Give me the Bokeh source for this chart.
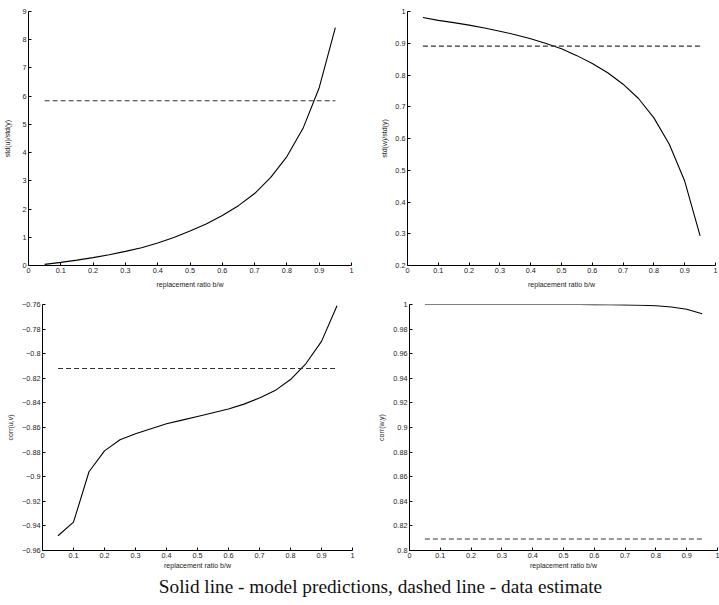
from bokeh.plotting import figure
from bokeh.layouts import column, row
from bokeh.models import FixedTicker, Range1d
from bokeh.core.properties import value
from bokeh.embed import file_html
from bokeh.resources import INLINE

# ---- data ----
ratio = [0.05, 0.10, 0.15, 0.20, 0.25, 0.30, 0.35, 0.40, 0.45, 0.50,
         0.55, 0.60, 0.65, 0.70, 0.75, 0.80, 0.85, 0.90, 0.95]

std_u = [0.04, 0.11, 0.19, 0.28, 0.38, 0.50, 0.63, 0.80, 0.99, 1.22,
         1.47, 1.77, 2.12, 2.55, 3.12, 3.86, 4.86, 6.30, 8.43]
std_u_data = 5.84

std_w = [0.981, 0.972, 0.965, 0.957, 0.948, 0.938, 0.927, 0.914, 0.899, 0.883,
         0.861, 0.836, 0.807, 0.771, 0.726, 0.665, 0.582, 0.466, 0.293]
std_w_data = 0.891

corr_uv = [-0.948, -0.937, -0.896, -0.879, -0.870, -0.865, -0.861, -0.857, -0.854, -0.851,
           -0.848, -0.845, -0.841, -0.836, -0.830, -0.821, -0.808, -0.790, -0.761]
corr_uv_data = -0.812

corr_wy = [1.0, 1.0, 1.0, 1.0, 1.0, 1.0, 1.0, 1.0, 1.0, 1.0,
           1.0, 0.9999, 0.9998, 0.9997, 0.9994, 0.999, 0.998, 0.9962, 0.9925]
corr_wy_data = 0.8094

x_ticks = [0, 0.1, 0.2, 0.3, 0.4, 0.5, 0.6, 0.7, 0.8, 0.9, 1]
x_labels = ["0", "0.1", "0.2", "0.3", "0.4", "0.5", "0.6", "0.7", "0.8", "0.9", "1"]

y1_ticks = [0, 1, 2, 3, 4, 5, 6, 7, 8, 9]
y1_labels = ["0", "1", "2", "3", "4", "5", "6", "7", "8", "9"]

y2_ticks = [0.2, 0.3, 0.4, 0.5, 0.6, 0.7, 0.8, 0.9, 1]
y2_labels = ["0.2", "0.3", "0.4", "0.5", "0.6", "0.7", "0.8", "0.9", "1"]

y3_ticks = [-0.96, -0.94, -0.92, -0.9, -0.88, -0.86, -0.84, -0.82, -0.8, -0.78, -0.76]
y3_labels = ["\u22120.96", "\u22120.94", "\u22120.92", "\u22120.9", "\u22120.88", "\u22120.86",
             "\u22120.84", "\u22120.82", "\u22120.8", "\u22120.78", "\u22120.76"]

y4_ticks = [0.8, 0.82, 0.84, 0.86, 0.88, 0.9, 0.92, 0.94, 0.96, 0.98, 1]
y4_labels = ["0.8", "0.82", "0.84", "0.86", "0.88", "0.9", "0.92", "0.94", "0.96", "0.98", "1"]

x_title = "replacement ratio b/w"
caption = "Solid line - model predictions, dashed line - data estimate"

SANS = "Liberation Sans"


def panel(fw, fh, bl, br, bt, bb, ys, ydata, yr, yticks, ylabels, ytitle, xls, yls):
    p = figure(frame_width=fw, frame_height=fh, output_backend="svg", toolbar_location=None,
               x_range=Range1d(0, 1), y_range=Range1d(*yr),
               min_border_left=bl, min_border_right=br,
               min_border_top=bt, min_border_bottom=bb)
    p.outline_line_color = None
    p.xgrid.visible = False
    p.ygrid.visible = False
    p.line(ratio, ys, line_color="black", line_width=1.1)
    p.line([ratio[0], ratio[-1]], [ydata, ydata], line_color="#333333",
           line_width=1.1, line_dash="5 3")
    p.xaxis.ticker = FixedTicker(ticks=x_ticks)
    p.xaxis.major_label_overrides = dict(zip(x_ticks, x_labels))
    p.yaxis.ticker = FixedTicker(ticks=yticks)
    p.yaxis.major_label_overrides = dict(zip(yticks, ylabels))
    p.xaxis.axis_label = x_title
    p.yaxis.axis_label = ytitle
    for ax in (p.xaxis, p.yaxis):
        ax.major_tick_in = 3
        ax.major_tick_out = 0
        ax.minor_tick_line_color = None
        ax.axis_line_color = "black"
        ax.major_tick_line_color = "black"
        ax.major_label_text_font = SANS
        ax.major_label_text_font_size = "7.3px"
        ax.major_label_text_color = "#222222"
        ax.axis_label_text_font = SANS
        ax.axis_label_text_font_size = "7px"
        ax.axis_label_text_font_style = "normal"
        ax.axis_label_text_color = "#222222"
        ax.major_label_standoff = 2
    p.xaxis.axis_label_standoff = xls
    p.yaxis.axis_label_standoff = yls
    return p


p1 = panel(323, 254, 28, 24, 11, 31, std_u, std_u_data, (0, 9), y1_ticks, y1_labels,
           "std(u)/std(y)", 5, 8)
p2 = panel(308, 254, 32, 2, 11, 31, std_w, std_w_data, (0.2, 1), y2_ticks, y2_labels,
           "std(w)/std(y)", 5, 4)
p3 = panel(310, 246, 42, 23, 8, 22, corr_uv, corr_uv_data, (-0.96, -0.76), y3_ticks, y3_labels,
           "corr(u,v)", 1, 5)
p4 = panel(308, 246, 33, 2, 8, 22, corr_wy, corr_wy_data, (0.8, 1), y4_ticks, y4_labels,
           "corr(w,y)", 1, 5)

cap = figure(width=717, height=28, output_backend="svg", toolbar_location=None,
             x_range=Range1d(0, 717), y_range=Range1d(0, 28),
             min_border=0)
cap.axis.visible = False
cap.grid.visible = False
cap.outline_line_color = None
cap.text(x=[380], y=[14], text=[caption], text_font=value("Liberation Serif"),
         text_font_size="19.3px", text_align="center", text_baseline="alphabetic",
         text_color="#111111")

layout = column(row(p1, p2, spacing=0), row(p3, p4, spacing=0), cap, spacing=0)

open("out.html", "w").write(file_html(layout, INLINE))
